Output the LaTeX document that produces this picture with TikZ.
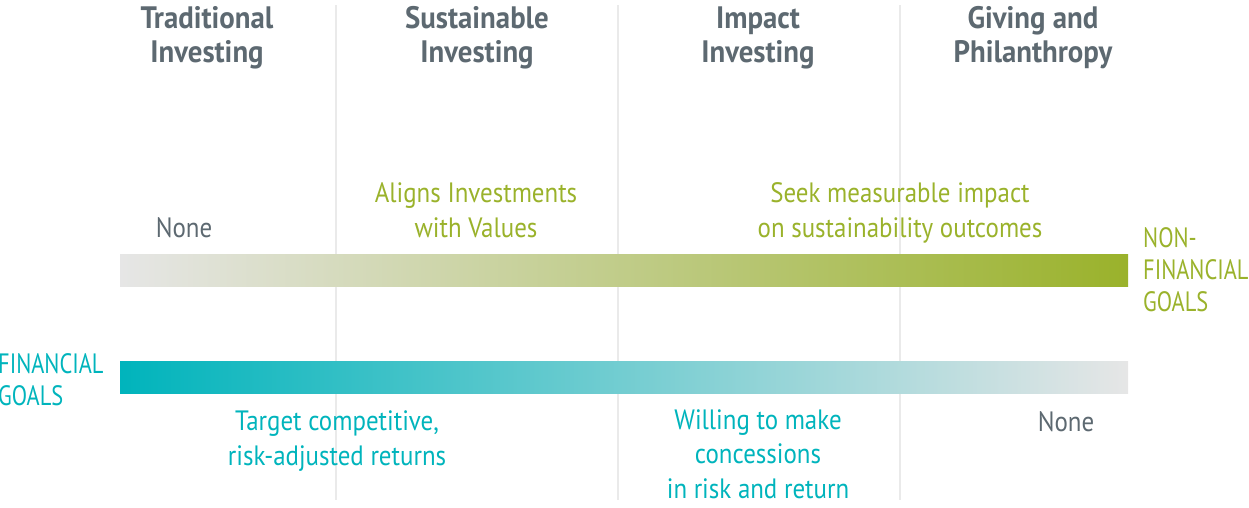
\documentclass[tikz,border=0pt]{standalone}
\usepackage{fontspec}
\setmainfont{PT Sans}[FakeStretch=0.89]
\newfontfamily\headfont{PT Sans Bold}[FakeStretch=0.93]
\newfontfamily\sidefont{PT Sans}[FakeStretch=0.80]
\definecolor{txtgray}{HTML}{5D6971}
\definecolor{goalgreen}{HTML}{9AB22B}
\definecolor{goalteal}{HTML}{00B4BC}
\definecolor{bargray}{HTML}{E6E6E6}
\definecolor{linegray}{HTML}{EAEAEA}
\tikzset{
  head/.style={font=\headfont\fontsize{31}{34}\selectfont, text=txtgray, align=center, inner sep=0pt, anchor=base},
  body/.style={font=\fontsize{28}{34.5}\selectfont, align=center, inner sep=0pt, anchor=base},
  side/.style={font=\sidefont\fontsize{28}{32}\selectfont, align=left, inner sep=0pt, anchor=base west},
  divider/.style={draw=linegray, line width=1.6pt},
}
\begin{document}
\begin{tikzpicture}[x=1pt,y=-1pt]
\useasboundingbox (0,0) rectangle (1249,508);
% dividers
\foreach \xx/\nm in {336/da,618/db,900/dc}{
  \coordinate (\nm t) at (\xx,5);
  \coordinate (\nm b) at (\xx,500);
  \draw[divider] (\nm t) -- (\nm b);
}
% bars
\shade[left color=bargray, right color=goalgreen, shading=axis] (120,254) rectangle (1128,286);
\shade[left color=goalteal, right color=bargray, shading=axis] (120,361) rectangle (1128,393);
% headings (anchor = baseline of last line)
\node[head] (h1) at (207,63) {Traditional\\Investing};
\node[head] (h2) at (477,63) {Sustainable\\Investing};
\node[head] (h3) at (758,63) {Impact\\Investing};
\node[head] (h4) at (1033,63) {Giving and\\Philanthropy};
% non-financial texts
\node[body, text=txtgray] (n1) at (184,237) {None};
\node[body, text=goalgreen] (n2) at (476,237) {Aligns Investments\\with Values};
\node[body, text=goalgreen] (n3) at (900,237) {Seek measurable impact\\on sustainability outcomes};
\node[side, text=goalgreen] (ng) at (1143,311) {NON-\\FINANCIAL\\GOALS};
% financial texts
\node[side, text=goalteal] (fg) at (-2,405) {FINANCIAL\\GOALS};
\node[body, text=goalteal] (f1) at (337,465) {Target competitive,\\risk-adjusted returns};
\node[body, text=goalteal] (f2) at (758,498) {Willing to make\\concessions\\in risk and return};
\node[body, text=txtgray] (f3) at (1066,431) {None};
\end{tikzpicture}
\end{document}
